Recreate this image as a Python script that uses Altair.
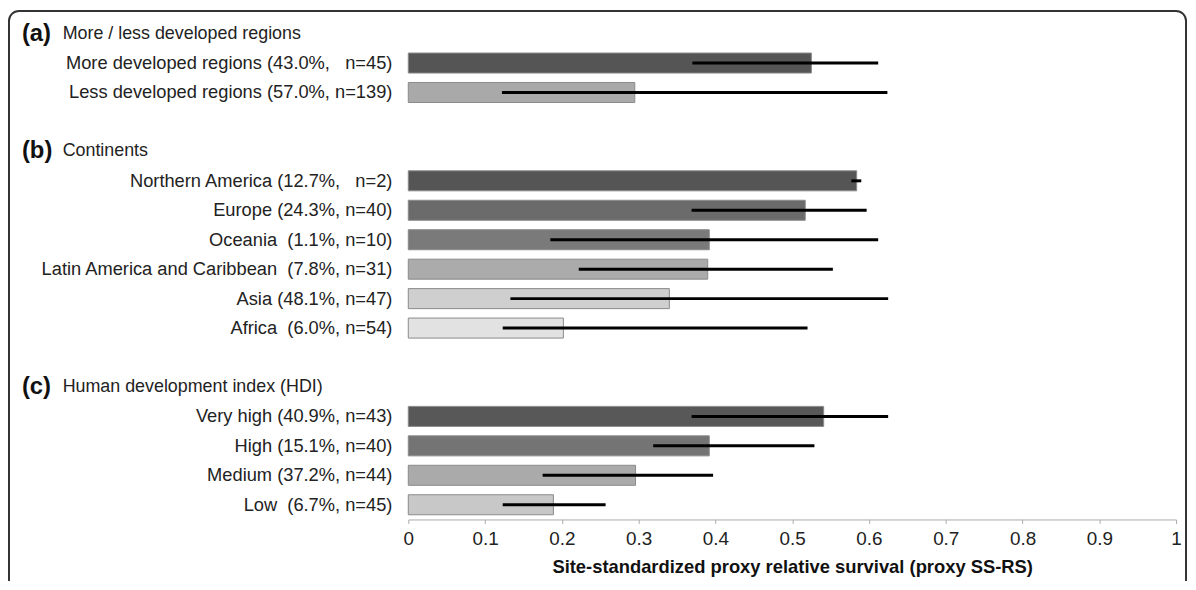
import altair as alt
import pandas as pd

# ---- data ----
row_order = ["hdr_a", "More developed regions", "Less developed regions", "gap1",
             "hdr_b", "Northern America", "Europe", "Oceania", "Latin America and Caribbean",
             "Asia", "Africa", "gap2",
             "hdr_c", "Very high", "High", "Medium", "Low"]

categories = ["More developed regions", "Less developed regions",
              "Northern America", "Europe", "Oceania", "Latin America and Caribbean", "Asia", "Africa",
              "Very high", "High", "Medium", "Low"]

NB = "\u00a0"
labels = ["More developed regions (43.0%," + NB * 2 + " n=45)",
          "Less developed regions (57.0%, n=139)",
          "Northern America (12.7%," + NB * 2 + " n=2)",
          "Europe (24.3%, n=40)",
          "Oceania" + NB + "  (1.1%, n=10)",
          "Latin America and Caribbean" + NB + "  (7.8%, n=31)",
          "Asia (48.1%, n=47)",
          "Africa" + NB + "  (6.0%, n=54)",
          "Very high (40.9%, n=43)",
          "High (15.1%, n=40)",
          "Medium (37.2%, n=44)",
          "Low" + NB + "  (6.7%, n=45)"]

means = [0.525, 0.295, 0.584, 0.517, 0.392, 0.390, 0.340, 0.202, 0.541, 0.392, 0.296, 0.189]
lows = [0.370, 0.122, 0.577, 0.369, 0.185, 0.222, 0.133, 0.123, 0.369, 0.319, 0.175, 0.123]
highs = [0.612, 0.624, 0.590, 0.597, 0.612, 0.553, 0.625, 0.520, 0.625, 0.529, 0.397, 0.257]
colors = ["#555555", "#a9a9a9",
          "#555555", "#6b6b6b", "#7a7a7a", "#ababab", "#cfcfcf", "#e2e2e2",
          "#585858", "#747474", "#aaaaaa", "#c8c8c8"]

header_keys = ["hdr_a", "hdr_b", "hdr_c"]
header_tags = ["(a)", "(b)", "(c)"]
header_texts = ["More / less developed regions", "Continents", "Human development index (HDI)"]

x_ticks = [0, 0.1, 0.2, 0.3, 0.4, 0.5, 0.6, 0.7, 0.8, 0.9, 1]

FONT = "Liberation Sans"

df = pd.DataFrame({"key": categories, "label": labels, "mean": means,
                   "lo": lows, "hi": highs})
hdr = pd.DataFrame({"key": header_keys, "tag": header_tags, "text": header_texts})

yscale = alt.Scale(domain=row_order, paddingInner=0.32, paddingOuter=0.16)
Y = alt.Y("key:N", scale=yscale, axis=None)

base = alt.Chart(df)

bars = base.mark_bar(stroke="#8a8a8a", strokeWidth=1).encode(
    y=Y,
    x=alt.X("mean:Q", scale=alt.Scale(domain=[0, 1], nice=False),
            axis=alt.Axis(values=x_ticks, format="~g", grid=False,
                          domainColor="#aaaaaa", tickColor="#aaaaaa", tickSize=4,
                          labelFontSize=19, labelColor="#222222", labelFont=FONT,
                          labelPadding=6, labelFlush=False,
                          title="Site-standardized proxy relative survival (proxy SS-RS)",
                          titleFont=FONT, titleFontSize=18.5, titleFontWeight="bold",
                          titleColor="#111111", titlePadding=9)),
    color=alt.Color("key:N", scale=alt.Scale(domain=categories, range=colors), legend=None),
)

errs = base.mark_rule(color="#000000", strokeWidth=3).encode(
    y=Y, x="lo:Q", x2="hi:Q"
)

lab = base.mark_text(align="right", baseline="middle", dx=-16, fontSize=18.4,
                     font=FONT, color="#222222").encode(
    y=Y, x=alt.value(0), text="label:N"
)

hdr_tag = alt.Chart(hdr).mark_text(align="left", baseline="middle", fontSize=24,
                                   fontWeight="bold", font=FONT, color="#111111").encode(
    y=Y, x=alt.value(-389), text="tag:N"
)
hdr_txt = alt.Chart(hdr).mark_text(align="left", baseline="middle", fontSize=18,
                                   font=FONT, color="#222222").encode(
    y=Y, x=alt.value(-348), text="text:N"
)

frame = alt.Chart(pd.DataFrame({"f": [0]})).mark_rect(
    fill="transparent", stroke="#333333", strokeWidth=2, cornerRadius=10
).encode(x=alt.value(-402), x2=alt.value(783), y=alt.value(-8), y2=alt.value(700))

chart = alt.layer(frame, bars, errs, lab, hdr_tag, hdr_txt).properties(
    width=773, height=504,
    autosize=alt.AutoSizeParams(type="none"),
    padding={"left": 403, "top": 9, "right": 12, "bottom": 60},
).configure_view(stroke=None)

chart.save("out.html", embed_options={"renderer": "svg", "actions": False})
